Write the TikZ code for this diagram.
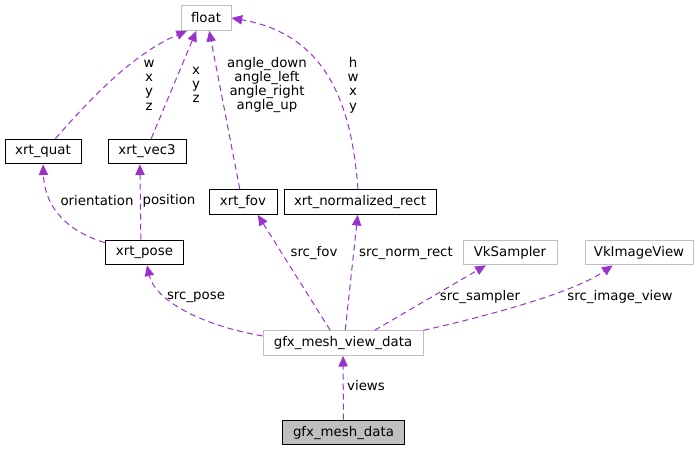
\documentclass[tikz,border=0pt]{standalone}
\usepackage{fontspec}
\setmainfont{DejaVu Sans}
\usetikzlibrary{arrows.meta}
\definecolor{usepurple}{HTML}{9A32CD}
\definecolor{extgray}{HTML}{BFBFBF}
\definecolor{maingray}{HTML}{BFBFBF}
\tikzset{
	cls/.style={draw=black, line width=0.75pt, minimum height=18.5pt, inner sep=0pt, font=\fontsize{10}{12}\selectfont},
	extcls/.style={cls, draw=extgray},
	maincls/.style={cls, fill=maingray},
	uses/.style={usepurple, line width=0.75pt, dash pattern=on 4.5pt off 3pt, -{Triangle[length=8pt,width=7pt]}},
	lbl/.style={inner sep=0pt, align=center, font=\fontsize{10}{10.7}\selectfont}
}

\begin{document}
\begin{tikzpicture}[x=0.75pt,y=-0.75pt]
			\useasboundingbox (0,0) rectangle (699,451);
			% classes
			\node[extcls, minimum width=37.5pt] (float) at (206,18) {float};
			\node[cls, minimum width=57pt] (quat) at (43,151.5) {xrt\_quat};
			\node[cls, minimum width=58.5pt] (vec3) at (147,151.5) {xrt\_vec3};
			\node[cls, minimum width=51pt] (fov) at (243,202) {xrt\_fov};
			\node[cls, minimum width=114pt] (normrect) at (360,202) {xrt\_normalized\_rect};
			\node[cls, minimum width=59pt] (pose) at (144.5,252.5) {xrt\_pose};
			\node[extcls, minimum width=70.5pt] (sampler) at (510,252.5) {VkSampler};
			\node[extcls, minimum width=81pt] (imageview) at (639,252.5) {VkImageView};
			\node[extcls, minimum width=120pt] (viewdata) at (343,343) {gfx\_mesh\_view\_data};
			\node[maincls, minimum width=92pt] (meshdata) at (343.5,432.5) {gfx\_mesh\_data};
			% members
			\draw[uses] (quat.46) .. controls (85,105) and (130,55) .. (float.214);
			\draw[uses] (vec3.72) -- (float.233);
			\draw[uses] (fov.104) -- (float.284);
			\draw[uses] (normrect.99) .. controls (352,110) and (330,35) .. (float.east);
			\draw[uses] (pose.166) .. controls (70,232) and (45,210) .. (quat.south);
			\draw[uses] (pose.106) -- (vec3.241);
			\draw[uses] (viewdata.175) .. controls (200,325) and (155,300) .. (pose.281);
			\draw[uses] (viewdata.135) -- (fov.319);
			\draw[uses] (viewdata.80) -- (normrect.260);
			\draw[uses] (viewdata.22) -- (sampler.208);
			\draw[uses] (viewdata.9) .. controls (470,320) and (570,295) .. (imageview.206);
			\draw[uses] (meshdata) -- (viewdata);
			% labels
			\node[lbl] (lblquat) at (149,85) {w\\x\\y\\z};
			\node[lbl] (lblvec) at (196,85) {x\\y\\z};
			\node[lbl] (lblfov) at (267,85) {angle\_down\\angle\_left\\angle\_right\\angle\_up};
			\node[lbl] (lblrect) at (353,85) {h\\w\\x\\y};
			\node[lbl] (lblorient) at (97,201) {orientation};
			\node[lbl] (lblpos) at (169,201) {position};
			\node[lbl] (lblpose) at (196,297) {src\_pose};
			\node[lbl] (lblsfov) at (314,253) {src\_fov};
			\node[lbl] (lblsrect) at (406,253) {src\_norm\_rect};
			\node[lbl] (lblsampler) at (480,297) {src\_sampler};
			\node[lbl] (lblimage) at (620,297) {src\_image\_view};
			\node[lbl] (lblviews) at (366,386) {views};
		\end{tikzpicture}
\end{document}
